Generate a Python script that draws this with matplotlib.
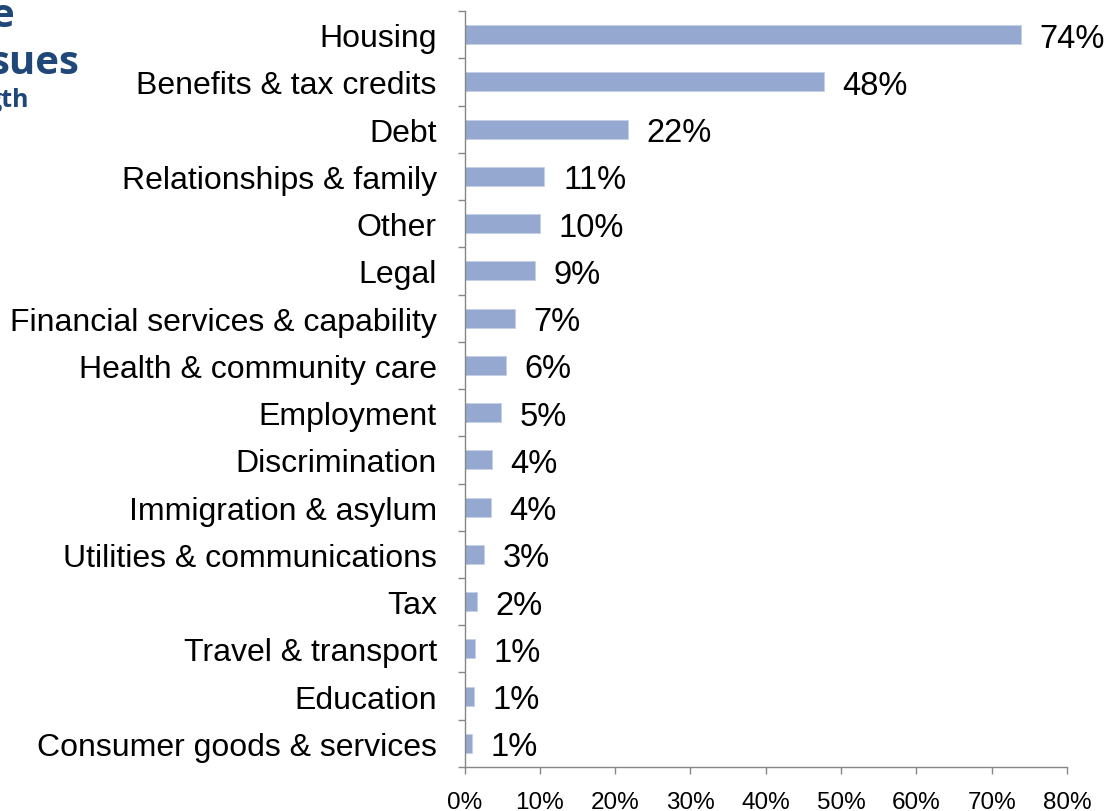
import matplotlib
matplotlib.use('Agg')
import matplotlib.pyplot as plt
import numpy as np

plt.rcParams['font.family'] = ['Liberation Sans', 'DejaVu Sans']

categories = ['Housing', 'Benefits & tax credits', 'Debt', 'Relationships & family',
              'Other', 'Legal', 'Financial services & capability',
              'Health & community care', 'Employment', 'Discrimination',
              'Immigration & asylum', 'Utilities & communications', 'Tax',
              'Travel & transport', 'Education', 'Consumer goods & services']
shares = [73.9, 47.7, 21.7, 10.6, 10.0, 9.3, 6.7, 5.5, 4.8, 3.6, 3.5, 2.6, 1.6, 1.4, 1.2, 1.0]
x_ticks = [0, 10, 20, 30, 40, 50, 60, 70, 80]

bar_color = '#94a8d0'
axis_color = '#868686'
title_color = '#1f4778'

fig = plt.figure(figsize=(11.05, 8.12), dpi=100)
ax = fig.add_axes([0.4204, 0.0542, 0.5452, 0.931])

y = np.arange(len(categories))
bars = ax.barh(y, shares, height=0.40, color=bar_color, edgecolor='#c5d0e6', linewidth=0.6)

for bar, v in zip(bars, shares):
    ax.annotate(f'{v:.0f}%', xy=(bar.get_width(), bar.get_y() + bar.get_height() / 2),
                xytext=(13.5, 0), textcoords='offset points',
                ha='left', va='center_baseline', fontsize=23.5, color='black')

ax.set_xlim(0, 80)
ax.set_ylim(len(categories) - 0.5, -0.5)

# category labels on major ticks, tick marks between the bars
ax.set_yticks(y)
ax.set_yticklabels(categories, fontsize=23, va='center_baseline')
ax.set_yticks(np.arange(-0.5, len(categories)), minor=True)
ax.tick_params(axis='y', which='major', length=0, pad=20)
ax.tick_params(axis='y', which='minor', length=5, width=1, color=axis_color, direction='out')

ax.set_xticks(x_ticks)
ax.set_xticklabels([f'{t}%' for t in x_ticks], fontsize=17.5)
ax.tick_params(axis='x', length=5, width=1, color=axis_color, direction='out', pad=12)

for side in ['top', 'right']:
    ax.spines[side].set_visible(False)
for side in ['left', 'bottom']:
    ax.spines[side].set_color(axis_color)
    ax.spines[side].set_linewidth(1)

# heading clipped at the left edge of the slide
fig.text(14 / 1105, 1 - 27 / 812, 'e', ha='right', va='baseline', fontsize=29,
         fontweight='bold', color=title_color, family=['Open Sans', 'DejaVu Sans'])
fig.text(79 / 1105, 1 - 74 / 812, 'sues', ha='right', va='baseline', fontsize=29,
         fontweight='bold', color=title_color, family=['Open Sans', 'DejaVu Sans'])
fig.text(29 / 1105, 1 - 107 / 812, 'gth', ha='right', va='baseline', fontsize=18,
         fontweight='bold', color=title_color, family=['Open Sans', 'DejaVu Sans'])

plt.savefig('out.png', dpi=100)
